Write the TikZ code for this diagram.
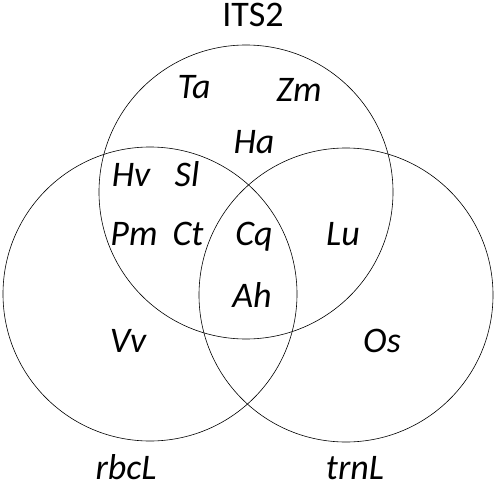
\documentclass[tikz,border=0pt]{standalone}
\usepackage{fontspec}
\setmainfont{Carlito}
\usepackage{tikz}
\usetikzlibrary{positioning}

\begin{document}
\begin{tikzpicture}[x=1pt, y=-1pt,
			set/.style={circle, draw, line width=0.6pt, minimum size=294pt, inner sep=0pt},
			taxon/.style={font=\fontsize{36}{40}\selectfont\itshape, anchor=base, inner sep=0pt},
			marker/.style={font=\fontsize{36}{40}\selectfont, anchor=base, inner sep=0pt}
		]
		\useasboundingbox (0,0) rectangle (500,487);
		
		% Marker circles
		\node[set] (its) at (246,192) {};
		\node[set] (rbc) at (150,294) {};
		\node[set] (trn) at (346,295) {};
		
		% Marker names
		\node[marker] (its_name) at (253,27) {ITS2};
		\node[taxon, text depth=0pt] (rbc_name) at (126,479) {rbcL};
		\node[taxon, text depth=0pt] (trn_name) at (355,479) {trnL};
		
		% ITS2 only
		\node[taxon] (ta) at (194,98) {Ta};
		\node[taxon] (zm) at (299,101) {Zm};
		\node[taxon] (ha) at (254,153) {Ha};
		
		% ITS2 and rbcL
		\node[taxon] (hv) at (131,186) {Hv};
		\node[taxon] (sl) at (187,186) {Sl};
		\node[taxon] (pm) at (134,245) {Pm};
		\node[taxon] (ct) at (188,245) {Ct};
		
		% All three
		\node[taxon] (cq) at (254,245) {Cq};
		\node[taxon] (ah) at (252,307) {Ah};
		
		% ITS2 and trnL
		\node[taxon] (lu) at (343,245) {Lu};
		
		% Single markers
		\node[taxon] (vv) at (128,352) {Vv};
		\node[taxon] (os) at (382,352) {Os};
		\end{tikzpicture}
\end{document}
